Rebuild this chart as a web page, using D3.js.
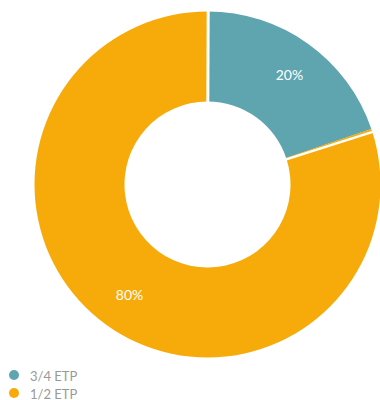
<!DOCTYPE html>
<html>
<head>
<meta charset="utf-8">
<script src="https://cdn.jsdelivr.net/npm/d3@7"></script>
<style>
  html, body { margin: 0; padding: 0; background: #fff; }
  svg { display: block; font-family: Lato, "Open Sans", sans-serif; }
</style>
</head>
<body>
<svg id="chart" width="380" height="400"></svg>
<script>
// Share of staff by working time
const categories = ["3/4 ETP", "1/2 ETP"];
const values = [20, 80];
const colors = ["#5fa5af", "#f7ab0a"];

const svg = d3.select("#chart");
const cx = 207.5, cy = 184.5;
const outerR = 173, innerR = 83, labelR = 136;

const g = svg.append("g").attr("transform", `translate(${cx},${cy})`);

const pie = d3.pie().sort(null).value(d => d)(values);
const arc = d3.arc().innerRadius(innerR).outerRadius(outerR);

const color = d3.scaleOrdinal().domain(categories).range(colors);

// slices
g.selectAll("path.slice")
  .data(pie)
  .join("path")
  .attr("class", "slice")
  .attr("fill", (d, i) => color(categories[i]))
  .attr("d", (d, i) => {
    // the first slice stops a hair short, letting the next one show through
    const trim = i === 0 ? 0.012 : 0;
    return arc({ ...d, endAngle: d.endAngle - trim });
  });

// orange rim under the trimmed edge of the first slice
g.append("path")
  .attr("fill", color(categories[1]))
  .attr("d", arc({ startAngle: pie[0].endAngle - 0.013, endAngle: pie[0].endAngle + 0.002 }));

// white separators at slice boundaries
g.selectAll("line.sep")
  .data(pie)
  .join("line")
  .attr("class", "sep")
  .attr("stroke", "#fff")
  .attr("stroke-width", (d, i) => i === 0 ? 3 : 2.5)
  .each(function (d, i) {
    const a = d.startAngle + (i === 0 ? 0.004 : 0.006);
    d3.select(this)
      .attr("x1", (innerR - 2) * Math.sin(a))
      .attr("y1", -(innerR - 2) * Math.cos(a))
      .attr("x2", (outerR + 2) * Math.sin(a))
      .attr("y2", -(outerR + 2) * Math.cos(a));
  });

// percentage labels
const total = d3.sum(values);
g.selectAll("text.pct")
  .data(pie)
  .join("text")
  .attr("class", "pct")
  .attr("text-anchor", "middle")
  .attr("dominant-baseline", "central")
  .attr("fill", "#fff")
  .attr("font-size", 14)
  .attr("x", d => labelR * Math.sin((d.startAngle + d.endAngle) / 2) + 2)
  .attr("y", d => -labelR * Math.cos((d.startAngle + d.endAngle) / 2))
  .text(d => Math.round(d.value / total * 100) + "%");

// legend
const legend = svg.append("g").attr("transform", "translate(14,375)");
const item = legend.selectAll("g")
  .data(categories)
  .join("g")
  .attr("transform", (d, i) => `translate(0,${i * 18})`);
item.append("circle")
  .attr("r", 5)
  .attr("fill", d => color(d));
item.append("text")
  .attr("x", 16)
  .attr("y", 5.5)
  .attr("fill", "#999")
  .attr("font-size", 13)
  .text(d => d);
</script>
</body>
</html>
